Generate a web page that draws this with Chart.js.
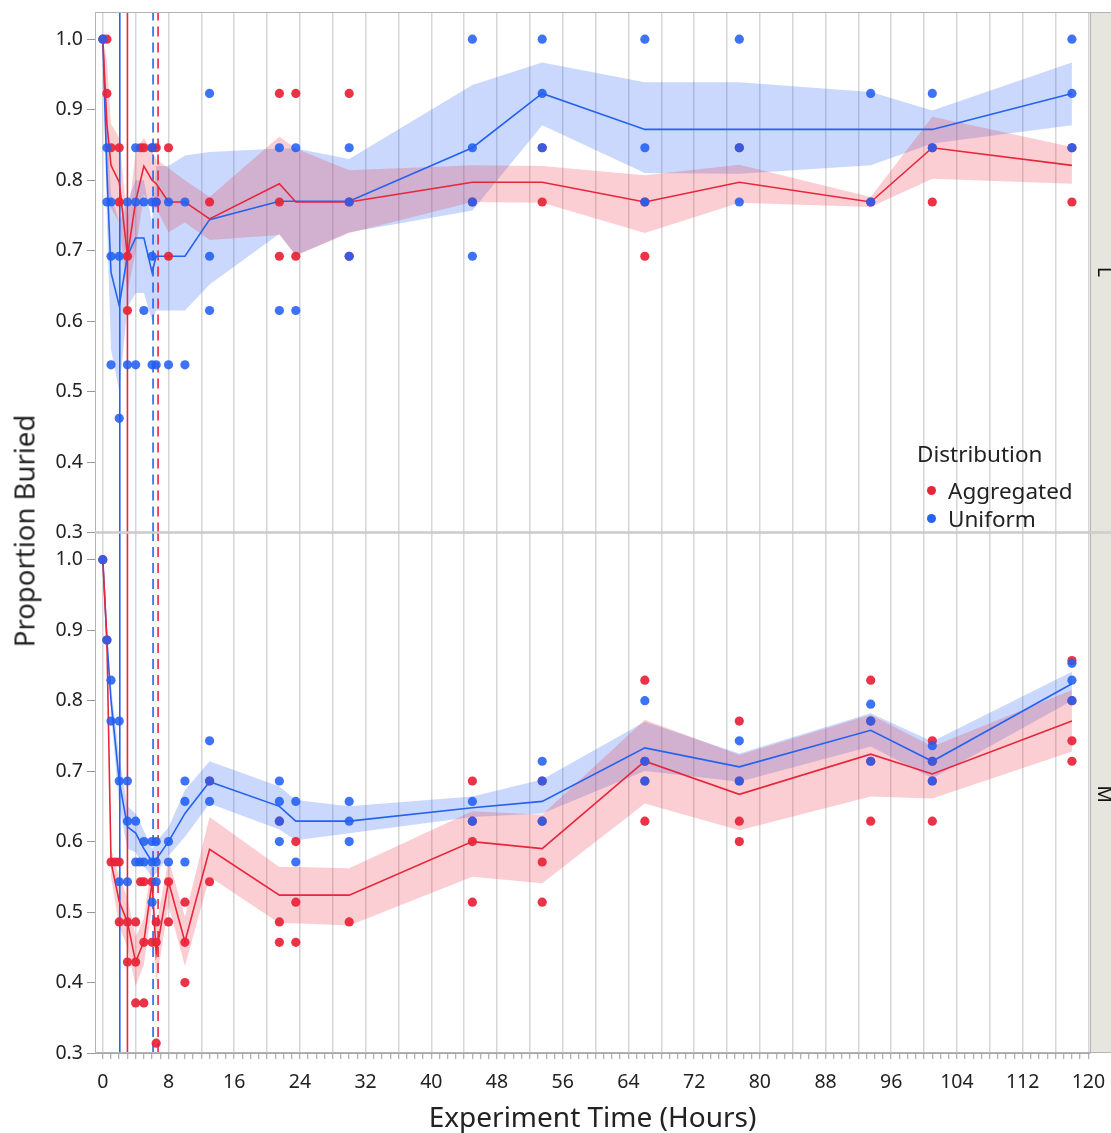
<!DOCTYPE html>
<html>
<head>
<meta charset="utf-8">
<script src="https://cdn.jsdelivr.net/npm/chart.js@4/dist/chart.umd.min.js"></script>
<style>
  body { margin: 0; background: #fff; }
  #wrap { position: relative; width: 1111px; height: 1133px; overflow: hidden;
          font-family: 'Segoe UI', 'Noto Sans', 'Open Sans', sans-serif; color: #222; }
  canvas { position: absolute; left: 0; top: 0; }
  .ytitle { position: absolute; left: 24px; top: 531px; transform: translate(-50%, -50%) rotate(-90deg);
            font-size: 27.5px; white-space: nowrap; }
  .legend { position: absolute; left: 917px; top: 440px; }
  .legend .ttl { font-size: 22.5px; line-height: 28px; margin-bottom: 8px; }
  .legend .it { font-size: 22.5px; display: flex; align-items: center; height: 28px; }
  .legend .dot { width: 9px; height: 9px; border-radius: 50%; margin-left: 10px; margin-right: 12px; }
  .strip { position: absolute; width: 22px; left: 1094px; writing-mode: vertical-rl; font-size: 19px;
           line-height: 22px; transform: translateY(-50%); color: #111; }
</style>
</head>
<body>
<div id="wrap">
  <canvas id="c" width="1111" height="1133"></canvas>
  <div class="ytitle">Proportion Buried</div>
  <div class="legend">
    <div class="ttl">Distribution</div>
    <div class="it"><span class="dot" style="background:rgb(232,38,58)"></span>Aggregated</div>
    <div class="it"><span class="dot" style="background:rgb(36,98,240)"></span>Uniform</div>
  </div>
  <div class="strip" style="top:272px">L</div>
  <div class="strip" style="top:794px">M</div>
</div>
<script>
// ---------------- data ----------------
const times = [0, 0.5, 1, 2, 3, 4, 5, 6, 6.5, 8, 10, 13, 21.5, 23.5, 30, 45, 53.5, 66, 77.5, 93.5, 101, 118];

// Panel L (top)
const aggL_mean = [1.0, 0.88, 0.821, 0.797, 0.692, 0.77, 0.82, 0.80, 0.795, 0.769, 0.769, 0.745, 0.795, 0.769, 0.769, 0.797, 0.797, 0.769, 0.797, 0.769, 0.846, 0.821];
const aggL_hi   = [1.0, 0.97, 0.88, 0.86, 0.74, 0.84, 0.86, 0.84, 0.83, 0.817, 0.80, 0.776, 0.862, 0.845, 0.814, 0.821, 0.82, 0.807, 0.822, 0.776, 0.89, 0.847];
const aggL_lo   = [1.0, 0.79, 0.76, 0.74, 0.64, 0.70, 0.78, 0.76, 0.76, 0.726, 0.74, 0.715, 0.722, 0.693, 0.725, 0.769, 0.768, 0.725, 0.768, 0.762, 0.802, 0.795];
const uniL_mean = [1.0, 0.81, 0.669, 0.622, 0.693, 0.718, 0.718, 0.669, 0.692, 0.692, 0.692, 0.744, 0.77, 0.77, 0.77, 0.846, 0.923, 0.872, 0.872, 0.872, 0.872, 0.923];
const uniL_hi   = [1.0, 0.88, 0.78, 0.74, 0.77, 0.80, 0.80, 0.74, 0.82, 0.82, 0.835, 0.84, 0.845, 0.845, 0.83, 0.935, 0.967, 0.939, 0.939, 0.925, 0.899, 0.967];
const uniL_lo   = [1.0, 0.74, 0.56, 0.50, 0.62, 0.64, 0.64, 0.60, 0.615, 0.615, 0.615, 0.652, 0.724, 0.693, 0.726, 0.757, 0.878, 0.81, 0.809, 0.821, 0.852, 0.878];

// Panel M (bottom)
const aggM_mean = [1.0, 0.886, 0.571, 0.515, 0.486, 0.429, 0.458, 0.543, 0.441, 0.543, 0.458, 0.589, 0.524, 0.524, 0.524, 0.60, 0.59, 0.714, 0.667, 0.724, 0.696, 0.771];
const aggM_hi   = [1.0, 0.886, 0.59, 0.55, 0.52, 0.465, 0.49, 0.575, 0.48, 0.575, 0.493, 0.635, 0.564, 0.564, 0.562, 0.643, 0.638, 0.773, 0.723, 0.78, 0.735, 0.815];
const aggM_lo   = [1.0, 0.886, 0.55, 0.48, 0.45, 0.395, 0.425, 0.51, 0.40, 0.51, 0.423, 0.55, 0.484, 0.484, 0.481, 0.55, 0.541, 0.654, 0.616, 0.664, 0.661, 0.728];
const uniM_mean = [1.0, 0.886, 0.80, 0.686, 0.621, 0.612, 0.59, 0.571, 0.575, 0.60, 0.64, 0.685, 0.65, 0.629, 0.629, 0.648, 0.657, 0.733, 0.706, 0.758, 0.714, 0.824];
const uniM_hi   = [1.0, 0.886, 0.82, 0.72, 0.65, 0.64, 0.615, 0.59, 0.60, 0.62, 0.673, 0.714, 0.678, 0.659, 0.65, 0.664, 0.688, 0.77, 0.725, 0.782, 0.742, 0.841];
const uniM_lo   = [1.0, 0.886, 0.78, 0.65, 0.59, 0.585, 0.565, 0.55, 0.555, 0.58, 0.607, 0.654, 0.617, 0.602, 0.612, 0.635, 0.64, 0.70, 0.685, 0.735, 0.69, 0.80];

// individual observations [time, proportion]
const aggL_obs = [[0,1.0],[0.5,1.0],[0.5,0.923],[1,0.846],[2,0.846],[2,0.769],[3,0.692],[3,0.615],[4.6,0.846],[5,0.846],
  [6,0.846],[6.5,0.846],[6.5,0.769],[8,0.846],[8,0.692],[13,0.769],[21.5,0.923],[21.5,0.769],[21.5,0.692],
  [23.5,0.923],[23.5,0.692],[30,0.923],[30,0.769],[30,0.692],[45,0.769],[53.5,0.846],[53.5,0.769],[66,0.769],[66,0.692],
  [77.5,0.846],[93.5,0.769],[101,0.846],[101,0.769],[118,0.846],[118,0.769]];
const uniL_obs = [[0,1.0],[0.5,0.846],[0.5,0.769],[1,0.769],[1,0.692],[1,0.538],[2,0.692],[2,0.462],[3,0.769],[3,0.538],
  [4,0.846],[4,0.769],[4,0.538],[5,0.769],[5,0.615],[6,0.846],[6,0.769],[6,0.692],[6,0.538],[6.5,0.769],[6.5,0.538],
  [8,0.769],[8,0.538],[10,0.769],[10,0.538],[13,0.923],[13,0.692],[13,0.615],[21.5,0.846],[21.5,0.615],
  [23.5,0.846],[23.5,0.615],[30,0.846],[30,0.769],[30,0.692],[45,1.0],[45,0.846],[45,0.769],[45,0.692],
  [53.5,1.0],[53.5,0.923],[53.5,0.846],[66,1.0],[66,0.846],[66,0.769],[77.5,1.0],[77.5,0.846],[77.5,0.769],
  [93.5,0.923],[93.5,0.769],[101,0.923],[101,0.846],[118,1.0],[118,0.923],[118,0.846]];
const aggM_obs = [[0,1.0],[0.5,0.886],[1,0.571],[1.5,0.571],[2,0.571],[2,0.486],[3,0.486],[3,0.429],[4,0.486],[4,0.429],
  [4,0.371],[4.6,0.543],[5,0.543],[5,0.457],[5,0.371],[6,0.543],[6,0.457],[6.5,0.486],[6.5,0.457],[6.5,0.314],
  [8,0.543],[8,0.486],[10,0.514],[10,0.457],[10,0.4],[13,0.686],[13,0.543],[21.5,0.629],[21.5,0.486],[21.5,0.457],
  [23.5,0.6],[23.5,0.514],[23.5,0.457],[30,0.486],[45,0.686],[45,0.629],[45,0.6],[45,0.514],
  [53.5,0.686],[53.5,0.629],[53.5,0.571],[53.5,0.514],[66,0.829],[66,0.714],[66,0.686],[66,0.629],
  [77.5,0.771],[77.5,0.686],[77.5,0.629],[77.5,0.6],[93.5,0.829],[93.5,0.771],[93.5,0.714],[93.5,0.629],
  [101,0.743],[101,0.714],[101,0.686],[101,0.629],[118,0.857],[118,0.8],[118,0.743],[118,0.714]];
const uniM_obs = [[0,1.0],[0.5,0.886],[1,0.829],[1,0.771],[2,0.771],[2,0.686],[2,0.543],[3,0.686],[3,0.629],[3,0.543],
  [4,0.629],[4,0.571],[4.5,0.571],[5,0.6],[5,0.571],[6,0.6],[6,0.571],[6,0.514],[6.5,0.6],[6.5,0.571],[6.5,0.543],
  [8,0.6],[8,0.571],[10,0.686],[10,0.657],[10,0.571],[13,0.743],[13,0.686],[13,0.657],
  [21.5,0.686],[21.5,0.657],[21.5,0.629],[21.5,0.6],[23.5,0.657],[23.5,0.571],[30,0.657],[30,0.629],[30,0.6],
  [45,0.657],[45,0.629],[53.5,0.714],[53.5,0.686],[53.5,0.629],[66,0.8],[66,0.714],[66,0.686],
  [77.5,0.743],[77.5,0.686],[93.5,0.795],[93.5,0.771],[93.5,0.714],[101,0.736],[101,0.714],[101,0.686],
  [118,0.853],[118,0.829],[118,0.8]];

// reference lines (hours): Uniform solid, Aggregated solid, Uniform dashed, Aggregated dashed
const refUniSolid = 2.07, refAggSolid = 3.0, refUniDash = 6.12, refAggDash = 6.73;

// tick labels
const xTickLabels = ['0','8','16','24','32','40','48','56','64','72','80','88','96','104','112','120'];
const yTickLabels = ['0.3','0.4','0.5','0.6','0.7','0.8','0.9','1.0'];

// ---------------- styling ----------------
const RED = 'rgb(232,38,58)', BLUE = 'rgb(36,98,240)';
const RED_PT = 'rgba(232,36,56,0.93)', BLUE_PT = 'rgba(34,96,242,0.88)';
const RED_BAND = 'rgba(236,60,80,0.25)', BLUE_BAND = 'rgba(40,100,245,0.25)';
const Y_MIN = 0.3, Y_MAX = 1.0386;

function series(vals) {
  return times.map((t, i) => vals[i] == null ? null : { x: t, y: vals[i] }).filter(p => p);
}
function obs(arr) { return arr.map(([x, y]) => ({ x, y })); }

function band(hi, lo, color, yAxisID) {
  return [
    { data: series(hi), yAxisID, borderWidth: 0, pointRadius: 0, backgroundColor: color, fill: '+1', order: 10, tension: 0 },
    { data: series(lo), yAxisID, borderWidth: 0, pointRadius: 0, fill: false, order: 10, tension: 0 }
  ];
}
function meanLine(vals, color, yAxisID) {
  return { data: series(vals), yAxisID, borderColor: color, borderWidth: 1.6, pointRadius: 0, fill: false, order: 5 };
}
function points(arr, color, yAxisID, order) {
  return { data: obs(arr), yAxisID, showLine: false, pointRadius: 4.6, pointBorderWidth: 0,
           pointBackgroundColor: color, backgroundColor: color, order };
}
function refLine(t, color, dashed, yAxisID) {
  return { data: [{ x: t, y: Y_MIN }, { x: t, y: Y_MAX }], yAxisID, borderColor: color, borderWidth: 1.6,
           borderDash: dashed ? [10, 6] : [], pointRadius: 0, fill: false, order: 7 };
}

const datasets = [
  ...band(aggL_hi, aggL_lo, RED_BAND, 'yL'),
  ...band(uniL_hi, uniL_lo, BLUE_BAND, 'yL'),
  ...band(aggM_hi, aggM_lo, RED_BAND, 'yM'),
  ...band(uniM_hi, uniM_lo, BLUE_BAND, 'yM'),
  meanLine(aggL_mean, RED, 'yL'), meanLine(uniL_mean, BLUE, 'yL'),
  meanLine(aggM_mean, RED, 'yM'), meanLine(uniM_mean, BLUE, 'yM'),
  points(aggL_obs, RED_PT, 'yL', 3), points(uniL_obs, BLUE_PT, 'yL', 2),
  points(aggM_obs, RED_PT, 'yM', 3), points(uniM_obs, BLUE_PT, 'yM', 2)
];
['yL', 'yM'].forEach(id => {
  datasets.push(refLine(refUniSolid, BLUE, false, id), refLine(refAggSolid, RED, false, id),
                refLine(refUniDash, BLUE, true, id), refLine(refAggDash, RED, true, id));
});

const framePlugin = {
  id: 'frame',
  beforeDraw(chart) {
    const { ctx, chartArea: a } = chart;
    ctx.save();
    ctx.fillStyle = '#e6e6de';
    ['yL', 'yM'].forEach(id => {
      const s = chart.scales[id];
      ctx.fillRect(a.right + 1, s.top + 1, chart.width - a.right, s.bottom - s.top - 2);
    });
    ctx.restore();
  },
  afterDraw(chart) {
    const { ctx, chartArea: a } = chart;
    ctx.save();
    ctx.strokeStyle = '#b4b4b4';
    ctx.lineWidth = 1;
    ['yL', 'yM'].forEach(id => {
      const s = chart.scales[id];
      ctx.strokeRect(a.left + 0.5, s.top + 0.5, a.right - a.left, s.bottom - s.top - 1);
      ctx.strokeRect(a.right + 0.5, s.top + 0.5, chart.width - a.right, s.bottom - s.top - 1);
    });
    const mid = chart.scales.yL.bottom;
    ctx.strokeStyle = '#cfcfcf';
    ctx.lineWidth = 2;
    ctx.beginPath(); ctx.moveTo(a.left, mid); ctx.lineTo(chart.width, mid); ctx.stroke();
    ctx.restore();
  }
};

function yScale(weight) {
  return {
    type: 'linear', position: 'left', stack: 'panels', stackWeight: 1, weight,
    min: Y_MIN, max: Y_MAX,
    afterFit(s) { s.width = 95; s.paddingTop = 0; s.paddingBottom = 0; },
    grid: { drawOnChartArea: false, drawTicks: true, tickLength: 8, tickColor: '#9a9a9a' },
    border: { display: true, color: '#a8a8a8', width: 1 },
    ticks: {
      stepSize: 0.05, includeBounds: false, padding: 4, color: '#222',
      font: { size: 19.5 },
      callback: v => { const s = Number(v).toFixed(1); return (Math.abs(v * 10 - Math.round(v * 10)) < 1e-6 && yTickLabels.includes(s)) ? s : ''; }
    }
  };
}

Chart.defaults.font.family = "'Segoe UI', 'Noto Sans', 'Open Sans', sans-serif";

new Chart(document.getElementById('c'), {
  type: 'line',
  data: { datasets },
  plugins: [framePlugin],
  options: {
    responsive: false, animation: false, events: [],
    layout: { padding: { left: 0, right: 21, top: 12, bottom: 0 } },
    plugins: { legend: { display: false }, tooltip: { enabled: false } },
    scales: {
      x: {
        type: 'linear', min: -0.95, max: 120.2,
        afterFit(s) { s.height = 80; s.paddingLeft = 0; s.paddingRight = 0; },
        grid: {
          color: c => (c.tick && Math.abs(c.tick.value % 4) < 1e-9) ? '#d6d6d6' : 'rgba(0,0,0,0)',
          lineWidth: 1.5, drawTicks: true, tickLength: 6, tickColor: '#9a9a9a', tickWidth: 1
        },
        border: { display: true, color: '#a8a8a8', width: 1 },
        ticks: {
          stepSize: 1, includeBounds: false, autoSkip: false, maxRotation: 0, padding: 12, color: '#222',
          font: { size: 19.5 },
          callback: v => xTickLabels.includes(String(v)) ? String(v) : ''
        },
        title: { display: true, text: 'Experiment Time (Hours)', color: '#222', font: { size: 28 }, padding: { top: 0, bottom: -3 } }
      },
      yL: yScale(1),
      yM: yScale(0)
    }
  }
});
</script>
</body>
</html>
